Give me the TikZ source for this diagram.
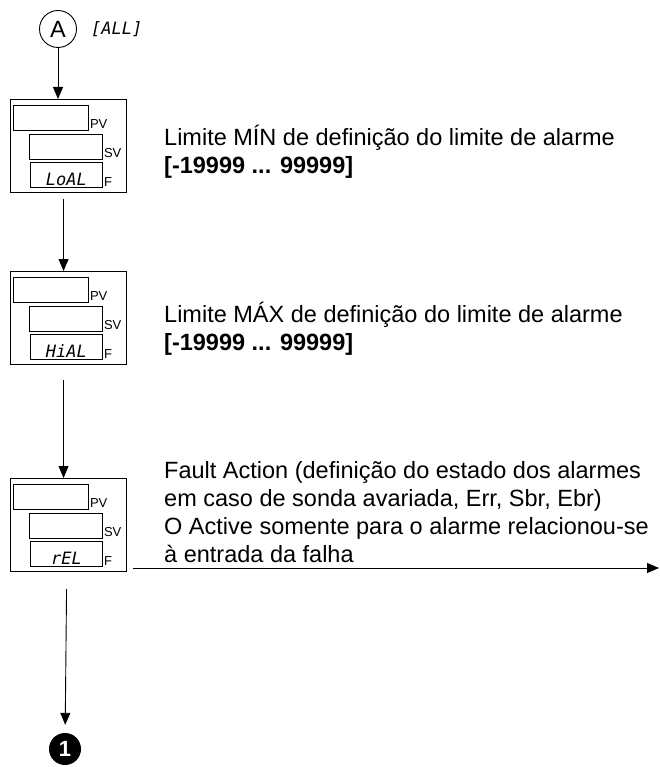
\documentclass[tikz,border=0pt]{standalone}
\usepackage{fontspec}
\setmainfont{Liberation Sans}
\newfontfamily\lcdfont{DejaVu Sans Mono}
\usetikzlibrary{positioning,arrows.meta}

\begin{document}
\begin{tikzpicture}[x=1pt, y=-1pt,
  panel/.style={draw, line width=1.1pt, minimum width=116pt, minimum height=93pt, inner sep=0pt, anchor=north west},
  win/.style={draw, line width=0.8pt, minimum height=25pt, inner sep=0pt, anchor=north west},
  tag/.style={font=\fontsize{13}{13}\selectfont, anchor=south west, inner sep=1pt},
  lcd/.style={font=\lcdfont\fontsize{17}{17}\selectfont\itshape, inner sep=1pt},
  desc/.style={font=\fontsize{23.5}{28}\selectfont, align=left, anchor=base west, inner sep=0pt},
  arr/.style={-{Triangle[length=12pt, width=10pt]}, line width=0.9pt}]

\useasboundingbox (0,0) rectangle (659,767);

% entry point
\node[circle, draw, line width=0.9pt, minimum size=37pt, inner sep=0pt, font=\fontsize{23.5}{23.5}\selectfont] (A) at (58,29) {A};
\node[lcd, anchor=west] (all) at (90,29) {[ALL]};

% the three display panels: PV, SV and F windows
\foreach \p/\top/\code in {1/99/LoAL, 2/271/HiAL, 3/478/rEL}{
  \node[panel] (d\p) at (10,\top) {};
  \node[win, minimum width=75pt] (pv\p) at ([shift={(3,6)}]d\p.north west) {};
  \node[win, minimum width=73pt] (sv\p) at ([shift={(19,35)}]d\p.north west) {};
  \node[win, minimum width=72pt] (f\p) at ([shift={(20,63)}]d\p.north west) {};
  \node[tag] at ([yshift=1pt]pv\p.south east) {PV};
  \node[tag] at ([yshift=1pt]sv\p.south east) {SV};
  \node[tag] at (f\p.south east) {F};
  \node[lcd, anchor=south] (c\p) at ([yshift=1pt]f\p.south) {\code};
}

% descriptions (base = last line)
\node[desc] (t1) at (164,174) {Limite MÍN de definição do limite de alarme\\\textbf{[-19999 ... 99999]}};
\node[desc] (t2) at (164,350) {Limite MÁX de definição do limite de alarme\\\textbf{[-19999 ... 99999]}};
\node[desc] (t3) at (164,562) {Fault Action (definição do estado dos alarmes\\em caso de sonda avariada, Err, Sbr, Ebr)\\O Active somente para o alarme relacionou-se\\à entrada da falha};

% exit point
\node[circle, fill=black, minimum size=32pt, inner sep=0pt, text=white, font=\bfseries\fontsize{22}{22}\selectfont] (one) at (65,749) {1};

\coordinate (outA) at (133,568);
\coordinate (outB) at (659,568);

% arrows
\draw[arr] (A) -- (A |- d1.north);
\draw[arr] ([xshift=-5pt, yshift=-6pt]d1.south) -- ([xshift=-5pt]d2.north);
\draw[arr] ([xshift=-5pt, yshift=-15pt]d2.south) -- ([xshift=-5pt]d3.north);
\draw[arr, shorten >=8pt] ([xshift=-2pt, yshift=-17pt]d3.south) -- (one);
\draw[arr] (outA) -- (outB);
\end{tikzpicture}
\end{document}
